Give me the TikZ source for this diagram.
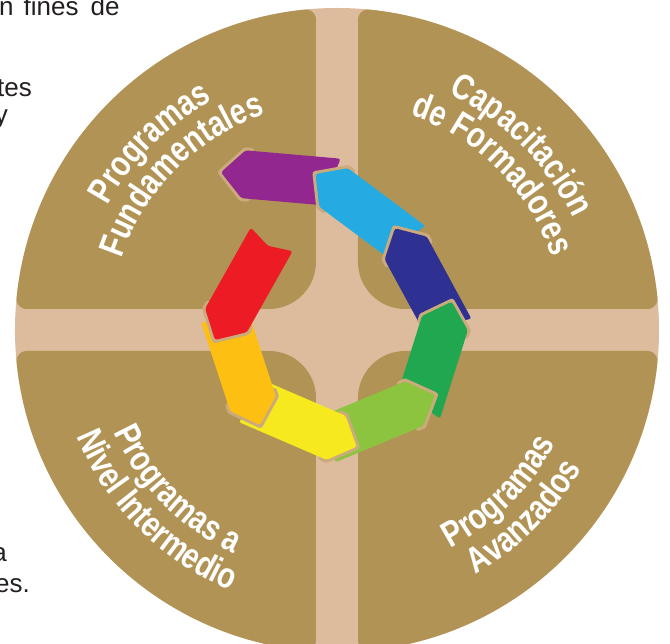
\documentclass[tikz,border=0pt]{standalone}
\usepackage{fontspec}
\setmainfont{Liberation Sans}
\newfontfamily\labfont[FakeStretch=0.8]{Liberation Sans Bold}
\usetikzlibrary{decorations.text}
\definecolor{gold}{HTML}{B19455}
\definecolor{bandc}{HTML}{DDBB9D}
\definecolor{rimc}{HTML}{CBAA7C}
\definecolor{bodytext}{HTML}{231F20}
\definecolor{segpurple}{HTML}{92278F}
\definecolor{segcyan}{HTML}{25ABE2}
\definecolor{segnavy}{HTML}{2E3192}
\definecolor{seggreen}{HTML}{21A750}
\definecolor{seglgreen}{HTML}{8CC43F}
\definecolor{segyellow}{HTML}{F6EA1F}
\definecolor{segamber}{HTML}{FDC012}
\definecolor{segred}{HTML}{ED1C24}
\newcommand\lab{\labfont\fontsize{36}{36}\selectfont}
\tikzset{
  headrim/.style={draw=rimc, line width=6pt, line join=round, line cap=round},
  fragment/.style={inner sep=0pt, text=bodytext, font=\fontsize{26}{30}\selectfont},
  arclabel/.style={decorate, decoration={text along path, text align=center, text color=white, text={|\lab|#1}}}
}
\newcommand\ringseg[5]{%
  \begin{scope}[shift={(#1,#2)}, rotate=#3]
    \draw[headrim] (-28,24) -- (-22.5,24) -- (0,0) -- (-22.5,-24) -- (-28,-24);
    \fill[#5, rounded corners=2.5pt] (0,0) -- (-22.5,24) -- (-#4,24) -- (-#4+7.5,0) -- (-#4,-24) -- (-22.5,-24) -- cycle;
  \end{scope}}
\begin{document}
\begin{tikzpicture}[x=1pt, y=1pt]
\useasboundingbox (-337,-314) rectangle (333,330);
\clip (-337,-314) rectangle (333,330);
\fill[white] (-337,-314) rectangle (333,330);
% text fragments of the page
\node[fragment, anchor=base west] (f1) at (-338,314) {n\hspace{10pt}fines\hspace{12pt}de};
\node[fragment, anchor=base east] (f2) at (-305,233) {tes};
\node[fragment, anchor=base east] (f3) at (-329,206) {y};
\node[fragment, anchor=base east] (f4) at (-330,-232) {a};
\node[fragment, anchor=base east] (f5) at (-307,-263) {es.};
% disc
\fill[bandc] (0,0) circle[radius=322];
\foreach \sx/\sy in {1/1,-1/1,1/-1,-1/-1}{
  \fill[gold, xscale=\sx, yscale=\sy] (68,21) -- (310.46,21)
    arc[start angle=-90, end angle=5.702, radius=10]
    arc[start angle=5.702, end angle=84.298, radius=322]
    arc[start angle=84.298, end angle=180, radius=10]
    -- (21,68) arc[start angle=180, end angle=270, radius=47] -- cycle;
}
% labels
\path[arclabel=Programas] (180:261) arc[start angle=180, end angle=90, radius=261];
\path[arclabel=Fundamentales] (180:227) arc[start angle=180, end angle=90, radius=227];
\path[arclabel=Capacitación] (90:261) arc[start angle=90, end angle=0, radius=261];
\path[arclabel=de Formadores] (90:227) arc[start angle=90, end angle=0, radius=227];
\path[arclabel=Programas a] (180:246) arc[start angle=180, end angle=270, radius=246];
\path[arclabel=Nivel Intermedio] (180:281) arc[start angle=180, end angle=270, radius=281];
\path[arclabel=Programas] (270:246) arc[start angle=270, end angle=360, radius=246];
\path[arclabel=Avanzados] (270:281) arc[start angle=270, end angle=360, radius=281];
% ring of arrows
\ringseg{-116}{157.7}{175}{118}{segpurple}
\ringseg{-21.5}{156}{143.3}{119}{segcyan}
\ringseg{58}{101.7}{118.5}{116}{segnavy}
\ringseg{114.7}{28.3}{72.5}{115}{seggreen}
\ringseg{98}{-65}{22.5}{118}{seglgreen}
\ringseg{19.7}{-116.7}{-23.3}{118}{segyellow}
\ringseg{-77}{-95}{-71.9}{116}{segamber}
\ringseg{-122}{-10}{-119.4}{115.5}{segred}
\end{tikzpicture}
\end{document}
